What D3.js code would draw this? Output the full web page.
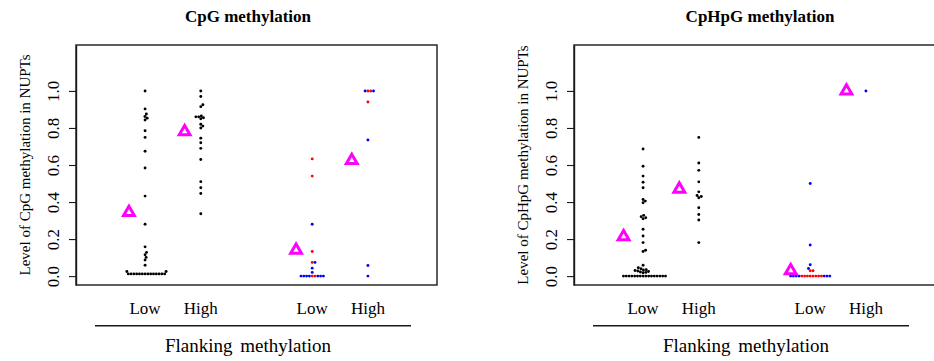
<!DOCTYPE html>
<html><head><meta charset="utf-8">
<script src="https://cdn.jsdelivr.net/npm/d3@7"></script>
<style>
body{margin:0;background:#fff;}
svg{display:block;font-family:"Liberation Serif","Times New Roman",serif;}
svg text{font-family:"Liberation Serif","Times New Roman",serif;}
</style>
</head><body>
<svg id="chart" width="934" height="361"></svg>
<script>
// ---------- data ----------
const categories = ["Low", "High", "Low", "High"];
const categoryPositions = [1, 2, 4, 5];
const yTicks = [0, 0.2, 0.4, 0.6, 0.8, 1.0];

// CpG panel
const cpgLow1 = [1.0, 0.903, 0.875, 0.862, 0.853, 0.843, 0.785, 0.749, 0.674, 0.584, 0.432, 0.28, 0.158, 0.128, 0.115, 0.101, 0.087, 0.059, 0.025, 0.025,
  0.012, 0.012, 0.012, 0.012, 0.012, 0.012, 0.012, 0.012, 0.012, 0.012, 0.012, 0.012, 0.012, 0.012];
const cpgHigh1 = [1.0, 0.97, 0.925, 0.915, 0.865, 0.86, 0.86, 0.855, 0.85, 0.82, 0.81, 0.80, 0.745, 0.72, 0.69, 0.63, 0.51, 0.477, 0.446, 0.337];
const cpgLow2Red = [0.633, 0.54, 0.133, 0.074, 0, 0];
const cpgLow2Blue = [0.28, 0.074, 0.043, 0.02, 0, 0, 0, 0, 0, 0, 0];
const cpgHigh2Red = [1.0, 1.0, 0.94];
const cpgHigh2Blue = [1.0, 1.0, 0.735, 0.057, 0];
const cpgMeans = [0.344, 0.78, 0.14, 0.625];

// CpHpG panel
const chgLow1 = [0.686, 0.593, 0.54, 0.507, 0.477, 0.414, 0.405, 0.396, 0.328, 0.321, 0.315, 0.31, 0.253, 0.217, 0.181, 0.14, 0.133, 0.059,
  0.045, 0.04, 0.035, 0.033, 0.03, 0.028, 0.025, 0.022, 0.02, 0.018,
  0, 0, 0, 0, 0, 0, 0, 0, 0, 0, 0, 0, 0, 0, 0, 0];
const chgHigh1 = [0.749, 0.611, 0.571, 0.509, 0.455, 0.435, 0.43, 0.423, 0.369, 0.333, 0.303, 0.181];
const chgLow2Red = [0.029, 0.029, 0, 0, 0, 0, 0, 0, 0, 0];
const chgLow2Blue = [0.5, 0.168, 0.061, 0.041, 0, 0, 0, 0, 0, 0, 0];
const chgHigh2Red = [];
const chgHigh2Blue = [1.0];
const chgMeans = [0.213, 0.47, 0.029, 1.0];

const BLACK = "#000000", RED = "#ff0000", BLUE = "#0000ff", MAGENTA = "#ff00ff";

const panels = [
  {
    title: "CpG methylation", ylab: "Level of CpG methylation in NUPTs",
    columns: [
      [{ vals: cpgLow1, color: BLACK }],
      [{ vals: cpgHigh1, color: BLACK }],
      [{ vals: cpgLow2Red, color: RED }, { vals: cpgLow2Blue, color: BLUE }],
      [{ vals: cpgHigh2Red, color: RED }, { vals: cpgHigh2Blue, color: BLUE }]
    ],
    means: cpgMeans, dx: 0, triOff: -0.29, titleX: 248
  },
  {
    title: "CpHpG methylation", ylab: "Level of CpHpG methylation in NUPTs",
    columns: [
      [{ vals: chgLow1, color: BLACK }],
      [{ vals: chgHigh1, color: BLACK }],
      [{ vals: chgLow2Red, color: RED }, { vals: chgLow2Blue, color: BLUE }],
      [{ vals: chgHigh2Red, color: RED }, { vals: chgHigh2Blue, color: BLUE }]
    ],
    means: chgMeans, dx: 498, triOff: -0.35, titleX: 760
  }
];

// ---------- drawing ----------
const svg = d3.select("#chart");
const y = d3.scaleLinear().domain([-0.048, 1.248]).range([285, 45]);
const D = 2.8, R = 1.45;
const SERIF = '"Liberation Serif","Times New Roman",serif';

function swarm(points, y) {
  const items = points.map((p, i) => ({ ...p, py: y(p.v), i }));
  items.sort((a, b) => b.py - a.py || a.i - b.i);
  const placed = [];
  for (const it of items) {
    const near = placed.filter(p => Math.abs(p.py - it.py) < D);
    const ivs = near.map(p => {
      const h = Math.sqrt(D * D - (p.py - it.py) ** 2);
      return [p.ox - h, p.ox + h];
    });
    const cands = [0];
    ivs.forEach(([a, b]) => { cands.push(a, b); });
    cands.sort((a, b) => Math.abs(a) - Math.abs(b) || b - a);
    let chosen = 0;
    for (const c of cands) {
      if (ivs.every(([a, b]) => c <= a + 1e-6 || c >= b - 1e-6)) { chosen = c; break; }
    }
    it.ox = chosen;
    placed.push(it);
  }
  return items;
}

panels.forEach(p => {
  const x = d3.scaleLinear().domain([-0.24, 6.24]).range([76 + p.dx, 437 + p.dx]);
  const g = svg.append("g");

  g.append("text").attr("x", p.titleX).attr("y", 22).attr("text-anchor", "middle")
    .style("font-size", "17px").style("font-weight", "bold").text(p.title);

  g.append("rect").attr("x", x.range()[0]).attr("y", y.range()[1])
    .attr("width", x.range()[1] - x.range()[0]).attr("height", y.range()[0] - y.range()[1])
    .attr("fill", "none").attr("stroke", "#1a1a1a").attr("stroke-width", 1.4);

  const ax = g.append("g").attr("transform", `translate(${x.range()[0]},0)`)
    .call(d3.axisLeft(y).tickValues(yTicks).tickSize(7).tickSizeOuter(0).tickFormat(d3.format(".1f")));
  ax.attr("font-family", SERIF).attr("font-size", 17);
  ax.select(".domain").attr("stroke", "#1a1a1a").attr("stroke-width", 1.4);
  ax.selectAll(".tick line").attr("stroke", "#1a1a1a").attr("stroke-width", 1.1);
  ax.selectAll(".tick text").attr("transform", "rotate(-90)").attr("x", 0).attr("y", -17.5).attr("dy", 0)
    .attr("text-anchor", "middle").attr("fill", "#000")
    .style("font-size", "17px").style("font-family", SERIF);

  g.append("text").attr("transform", `translate(${29.5 + p.dx},165) rotate(-90)`).attr("text-anchor", "middle")
    .style("font-size", "15px").text(p.ylab);

  categories.forEach((c, i) => {
    g.append("text").attr("x", x(categoryPositions[i])).attr("y", 314).attr("text-anchor", "middle")
      .style("font-size", "17px").text(c);
  });
  g.append("line").attr("x1", 95 + p.dx).attr("x2", 411 + p.dx).attr("y1", 325.7).attr("y2", 325.7)
    .attr("stroke", "#1a1a1a").attr("stroke-width", 1.4);
  g.append("text").attr("x", 248 + p.dx).attr("y", 352).attr("text-anchor", "middle")
    .style("font-size", "19px").style("word-spacing", "3px").text("Flanking methylation");

  p.columns.forEach((col, ci) => {
    const pts = [];
    col.forEach(s => s.vals.forEach(v => pts.push({ v, color: s.color })));
    const placed = swarm(pts, y);
    const cx = x(categoryPositions[ci]);
    g.append("g").selectAll("circle").data(placed).join("circle")
      .attr("cx", d => cx + d.ox).attr("cy", d => d.py).attr("r", R).attr("fill", d => d.color);
  });

  g.append("g").selectAll("path").data(p.means).join("path")
    .attr("d", d3.symbol(d3.symbolTriangle, 50)())
    .attr("transform", (d, i) => `translate(${x(categoryPositions[i] + p.triOff)},${y(d)})`)
    .attr("fill", "none").attr("stroke", MAGENTA).attr("stroke-width", 3);
});
</script>
</body></html>
